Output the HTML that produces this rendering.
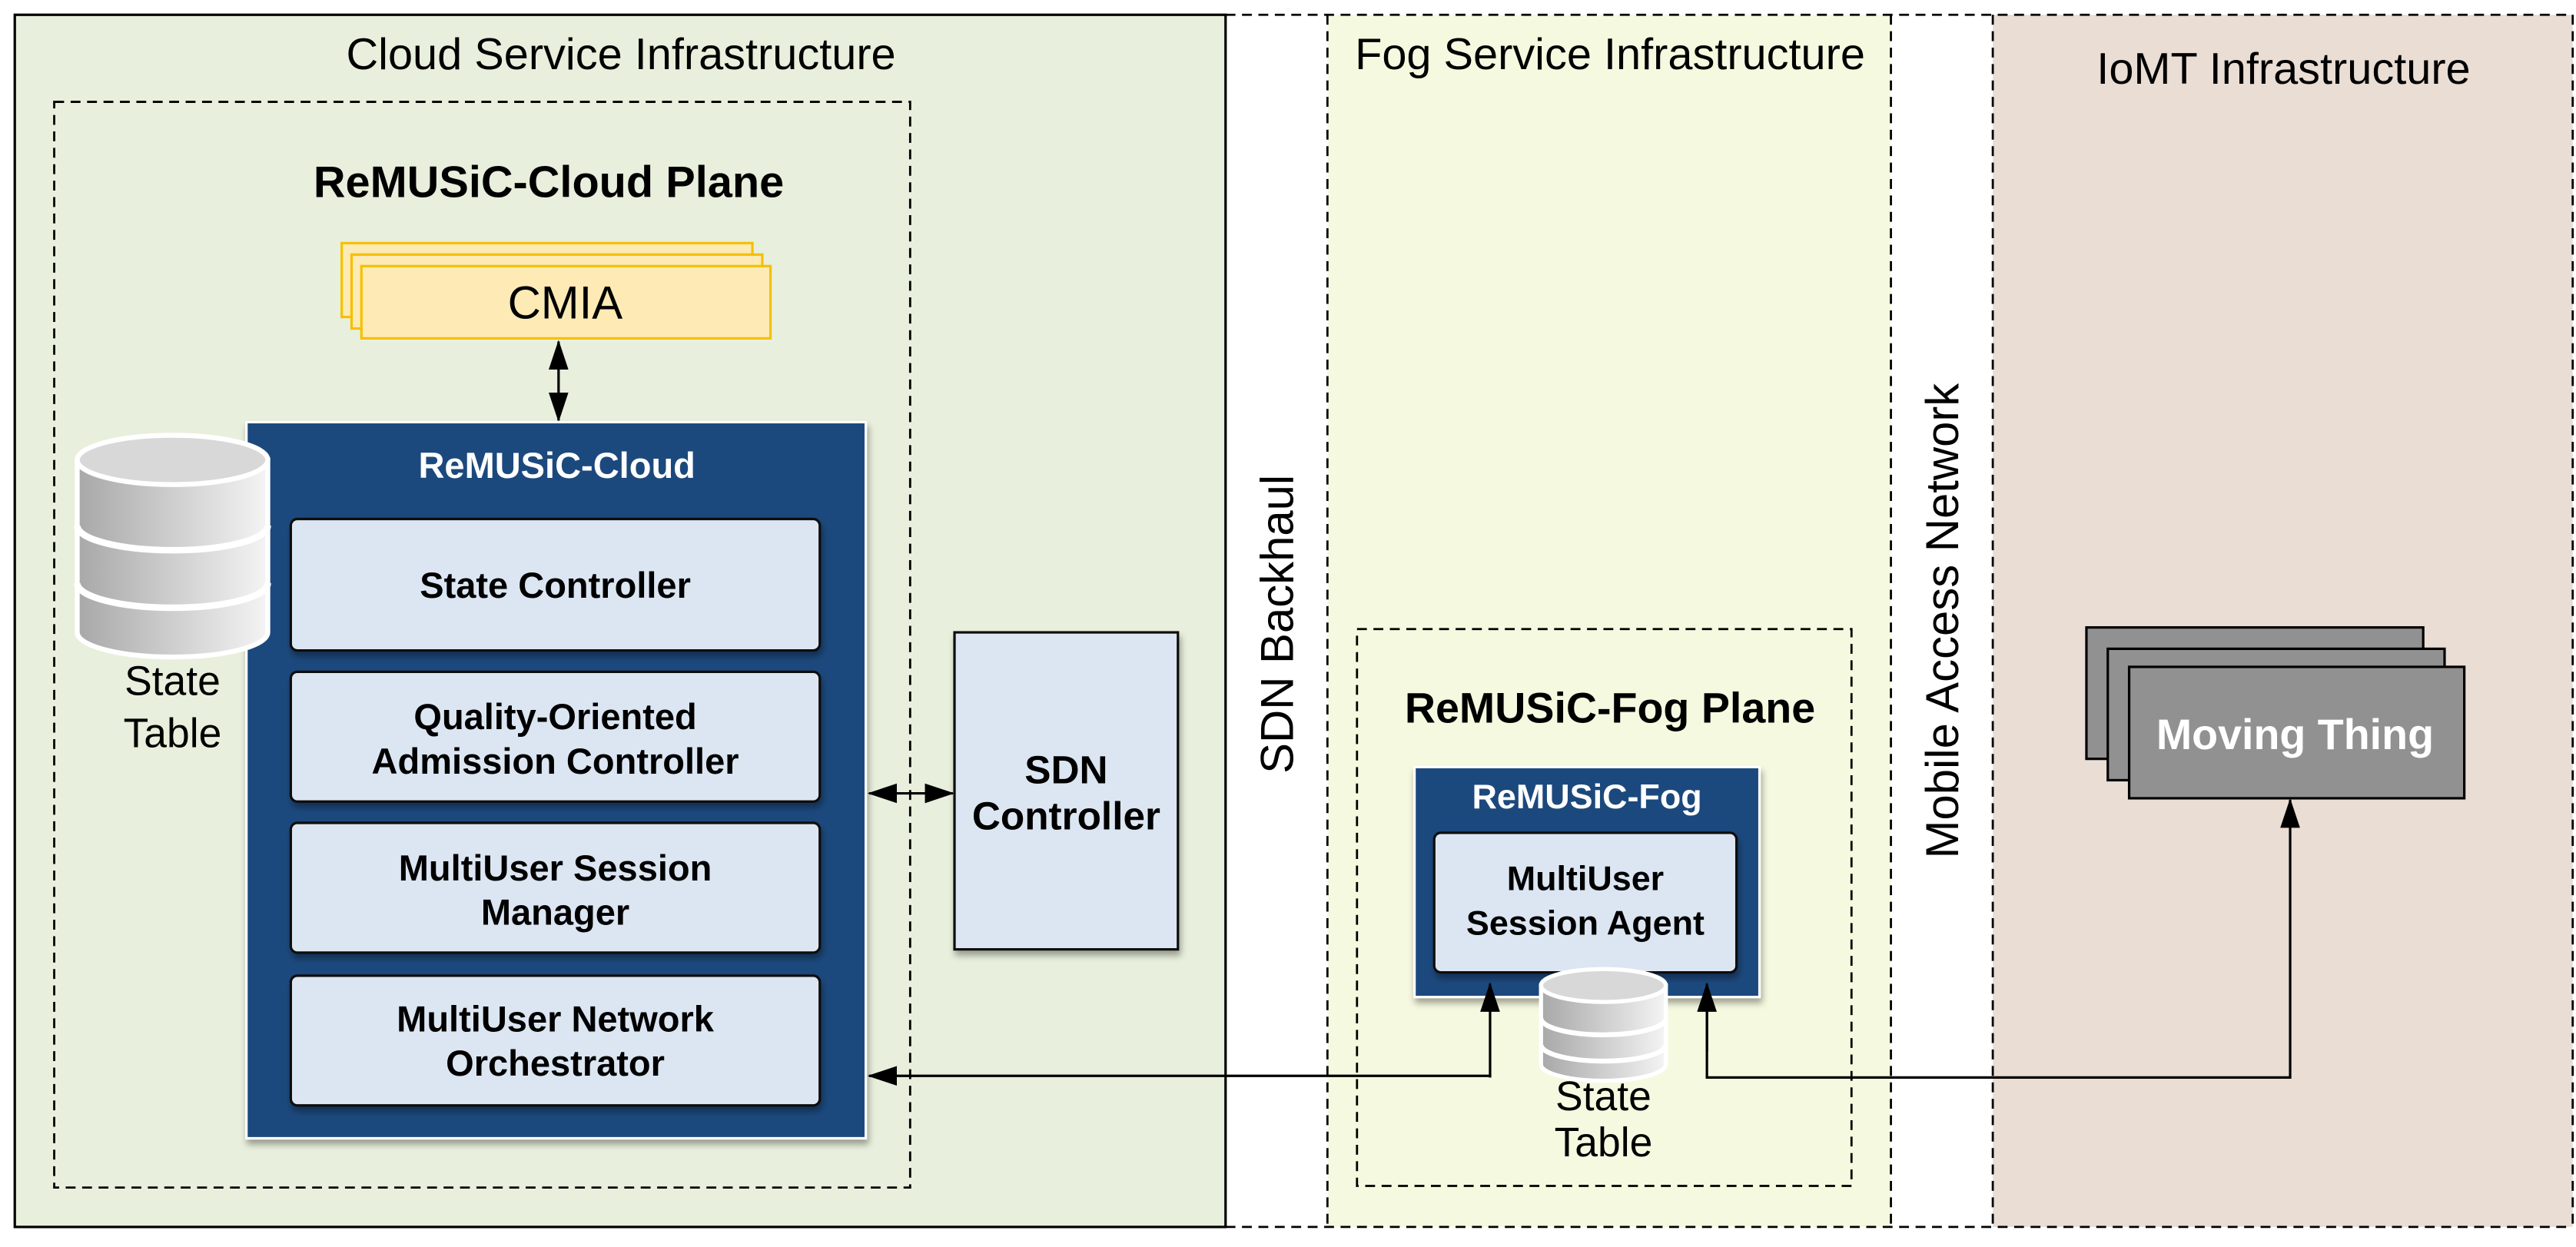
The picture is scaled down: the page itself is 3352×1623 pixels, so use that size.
<!DOCTYPE html>
<html><head><meta charset="utf-8"><style>
html,body{margin:0;padding:0;background:#fff;}
svg{display:block;}
text{font-family:"Liberation Sans",Arial,sans-serif;}
</style></head><body>
<svg width="3352" height="1623" viewBox="0 0 1568 759.2" xmlns="http://www.w3.org/2000/svg">
<defs>
<marker id="ah" markerWidth="18" markerHeight="12" refX="17" refY="6" orient="auto" markerUnits="userSpaceOnUse">
<path d="M0,0 L18,6 L0,12 Z" fill="#000"/></marker>
<marker id="ahs" markerWidth="18" markerHeight="12" refX="1" refY="6" orient="auto" markerUnits="userSpaceOnUse">
<path d="M18,0 L0,6 L18,12 Z" fill="#000"/></marker>
<linearGradient id="cyl" x1="0" x2="1"><stop offset="0" stop-color="#a8a8a8"/><stop offset="1" stop-color="#f4f4f4"/></linearGradient>
<filter id="sh" x="-10%" y="-10%" width="130%" height="130%"><feDropShadow dx="1" dy="3" stdDeviation="2" flood-opacity="0.35"/></filter>
</defs>
<rect x="9" y="9" width="737" height="738" fill="#e8efdc" stroke="#000" stroke-width="1.5"/>
<rect x="808" y="9" width="343" height="738" fill="#f5f9df"/>
<rect x="1213" y="9" width="353" height="738" fill="#e9ddd4"/>
<g stroke="#000" stroke-width="1.3" stroke-dasharray="6,4" fill="none">
<line x1="746" y1="9" x2="1566" y2="9"/><line x1="746" y1="747" x2="1566" y2="747"/>
<line x1="808" y1="9" x2="808" y2="747"/><line x1="1151" y1="9" x2="1151" y2="747"/>
<line x1="1213" y1="9" x2="1213" y2="747"/><line x1="1566" y1="9" x2="1566" y2="747"/>
<rect x="33" y="62" width="521" height="661"/>
<rect x="826" y="383" width="301" height="339"/>
</g>
<text x="378" y="42" font-size="27" text-anchor="middle">Cloud Service Infrastructure</text>
<text x="980" y="42" font-size="27" text-anchor="middle">Fog Service Infrastructure</text>
<text x="1390" y="51" font-size="27" text-anchor="middle">IoMT Infrastructure</text>
<text transform="translate(787,380) rotate(-90)" font-size="28" text-anchor="middle">SDN Backhaul</text>
<text transform="translate(1192,378) rotate(-90)" font-size="28" text-anchor="middle">Mobile Access Network</text>
<text x="334" y="120" font-size="27" font-weight="bold" text-anchor="middle">ReMUSiC-Cloud Plane</text>
<g fill="#fdeab5" stroke="#f5c000" stroke-width="1.5">
<rect x="208" y="148" width="250" height="45"/><rect x="214" y="155" width="250" height="45"/><rect x="220" y="162" width="249" height="44"/></g>
<text x="344" y="194" font-size="28" text-anchor="middle">CMIA</text>
<line x1="340" y1="208" x2="340" y2="256" stroke="#000" stroke-width="1.5" marker-end="url(#ah)" marker-start="url(#ahs)"/>
<rect x="150" y="257" width="377" height="436" fill="#1f497d" stroke="#fff" stroke-width="1.5" filter="url(#sh)"/>
<text x="339" y="291" font-size="22" font-weight="bold" fill="#fff" text-anchor="middle">ReMUSiC-Cloud</text>
<g fill="#dce6f2" stroke="#111" stroke-width="1.5" filter="url(#sh)">
<rect x="177" y="316" width="322" height="80" rx="4"/><rect x="177" y="409" width="322" height="79" rx="4"/>
<rect x="177" y="501" width="322" height="79" rx="4"/><rect x="177" y="594" width="322" height="79" rx="4"/></g>
<g font-size="22" font-weight="bold" text-anchor="middle">
<text x="338" y="364">State Controller</text>
<text x="338" y="444">Quality-Oriented</text><text x="338" y="471">Admission Controller</text>
<text x="338" y="536">MultiUser Session</text><text x="338" y="563">Manager</text>
<text x="338" y="628">MultiUser Network</text><text x="338" y="655">Orchestrator</text>
</g>
<g stroke="#fff" stroke-width="3">
<path d="M47,280 L47,385 A58,15 0 0 0 163,385 L163,280 Z" fill="url(#cyl)"/>
<ellipse cx="105" cy="280" rx="58" ry="15" fill="#d8d8d8"/>
<path d="M47,320 A58,15 0 0 0 163,320" fill="none" stroke-width="4"/>
<path d="M47,355 A58,15 0 0 0 163,355" fill="none" stroke-width="4"/>
</g>
<g font-size="25" text-anchor="middle"><text x="105" y="423">State</text><text x="105" y="455">Table</text></g>
<rect x="581" y="385" width="136" height="193" fill="#dce6f2" stroke="#111" stroke-width="1.5" filter="url(#sh)"/>
<g font-size="24" font-weight="bold" text-anchor="middle"><text x="649" y="477">SDN</text><text x="649" y="505">Controller</text></g>
<line x1="529" y1="483" x2="580" y2="483" stroke="#000" stroke-width="1.5" marker-end="url(#ah)" marker-start="url(#ahs)"/>
<text x="980" y="440" font-size="26" font-weight="bold" text-anchor="middle">ReMUSiC-Fog Plane</text>
<rect x="861" y="467" width="210" height="140" fill="#1f497d" stroke="#fff" stroke-width="1.5" filter="url(#sh)"/>
<text x="966" y="492" font-size="21" font-weight="bold" fill="#fff" text-anchor="middle">ReMUSiC-Fog</text>
<rect x="873" y="507" width="184" height="85" rx="4" fill="#dce6f2" stroke="#111" stroke-width="1.5" filter="url(#sh)"/>
<g font-size="21" font-weight="bold" text-anchor="middle"><text x="965" y="542">MultiUser</text><text x="965" y="569">Session Agent</text></g>
<g stroke="#fff" stroke-width="2.5">
<path d="M938,600 L938,648 A38,10 0 0 0 1014,648 L1014,600 Z" fill="url(#cyl)"/>
<ellipse cx="976" cy="600" rx="38" ry="10" fill="#d8d8d8"/>
<path d="M938,620 A38,10 0 0 0 1014,620" fill="none" stroke-width="3"/>
<path d="M938,636 A38,10 0 0 0 1014,636" fill="none" stroke-width="3"/>
</g>
<g font-size="25" text-anchor="middle"><text x="976" y="676">State</text><text x="976" y="704">Table</text></g>
<polyline points="907,656 907,655 529,655" fill="none" stroke="#000" stroke-width="1.5" marker-end="url(#ah)"/>
<line x1="907" y1="656" x2="907" y2="599" stroke="#000" stroke-width="1.5" marker-end="url(#ah)"/>
<polyline points="1039,600 1039,656 1394,656 1394,487" fill="none" stroke="#000" stroke-width="1.5" marker-end="url(#ah)"/>
<line x1="1039" y1="640" x2="1039" y2="599" stroke="#000" stroke-width="1.5" marker-end="url(#ah)"/>
<g fill="#919191" stroke="#000" stroke-width="1.5">
<rect x="1270" y="382" width="205" height="80"/><rect x="1283" y="395" width="205" height="80"/><rect x="1296" y="406" width="204" height="80"/></g>
<text x="1397" y="456" font-size="26" font-weight="bold" fill="#fff" text-anchor="middle">Moving Thing</text>
</svg>
</body></html>
